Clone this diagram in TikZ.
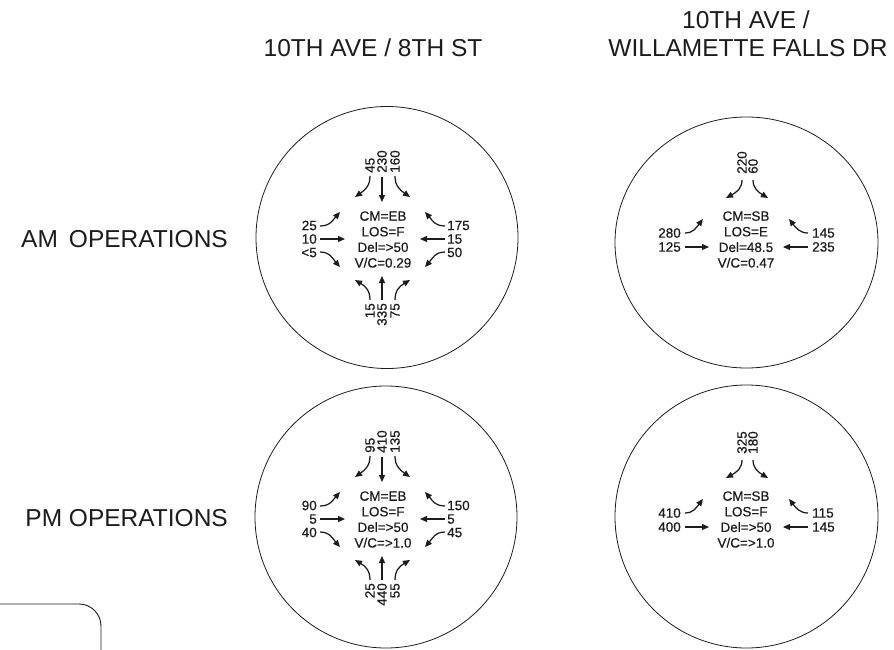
\documentclass[tikz,border=0pt]{standalone}
\usepackage{fontspec}
\setmainfont{Liberation Sans}
\newfontfamily\smallfont[FakeBold=0.5]{Liberation Sans}
\usetikzlibrary{arrows.meta,shapes.geometric}
\definecolor{ink}{HTML}{1C1C1C}
\begin{document}
\begin{tikzpicture}[x=1pt,y=-1pt,
  every node/.style={inner sep=0pt, text=ink},
  big/.style={font=\fontsize{24.5}{28}\selectfont},
  small/.style={font=\smallfont\fontsize{13.5}{13.5}\selectfont},
  pair/.style={font=\smallfont\fontsize{13.5}{14}\selectfont},
  ctr/.style={font=\smallfont\fontsize{13.5}{15.6}\selectfont, align=center},
  mv/.style={draw=ink, line width=1.25pt, -{Triangle[length=7pt,width=6pt]}},
  ring/.style={draw=ink, line width=0.8pt},
  up/.style={small, rotate=90, anchor=west},
  dn/.style={small, rotate=90, anchor=east},
]
\useasboundingbox (0,0) rectangle (894,650);

% titles and row labels
\node[big] (t1) at (373,48) {10TH AVE / 8TH ST};
\node[big] (t2a) at (746,20) {10TH AVE /};
\node[big] (t2b) at (748,48) {WILLAMETTE FALLS DR};
\node[big, anchor=east] (am) at (228,239) {AM\hspace{0.45em}OPERATIONS};
\node[big, anchor=east] (pm) at (228,518) {PM OPERATIONS};

% rings
\node[ring, circle, minimum size=262pt] (c1) at (387,237.5) {};
\node[ring, ellipse, minimum width=263pt, minimum height=251pt] (c2) at (746.5,242.5) {};
\node[ring, circle, minimum size=262pt] (c3) at (386,517) {};
\node[ring, circle, minimum size=263pt] (c4) at (746.5,516.5) {};

% corner frame
\draw[ink, line width=0.9pt, rounded corners=22pt] (0,604) -- (101,604) -- (101,650);

% ---------- AM, 10th / 8th ----------
\begin{scope}[shift={(383,240)}]
\node[up] (a1n1) at (-13,-67) {45};
\node[up] (a1n2) at (-1,-67) {230};
\node[up] (a1n3) at (12,-67) {160};
\draw[mv] (-13,-64) .. controls (-13,-54) and (-18,-50) .. (-28,-43);
\draw[mv] (-1,-63) -- (-1,-38);
\draw[mv] (12,-64) .. controls (12,-54) and (17,-50) .. (27,-43);
\node[small, align=right, anchor=east] (a1w) at (-66,-1) {25\\10\\<5};
\draw[mv] (-63,-14) .. controls (-53,-14) and (-50,-20) .. (-43,-28);
\draw[mv] (-63,-1) -- (-38,-1);
\draw[mv] (-63,12) .. controls (-53,12) and (-50,19) .. (-43,27);
\node[small, align=left, anchor=west] (a1e) at (64,-1) {175\\15\\50};
\draw[mv] (62,-14) .. controls (52,-14) and (49,-20) .. (42,-28);
\draw[mv] (62,-1) -- (37,-1);
\draw[mv] (62,12) .. controls (52,12) and (49,19) .. (42,27);
\draw[mv] (-13,60) .. controls (-13,50) and (-18,46) .. (-28,40);
\draw[mv] (-1,60) -- (-1,36);
\draw[mv] (12,60) .. controls (12,50) and (17,46) .. (27,40);
\node[dn] (a1s1) at (-13,63) {15};
\node[dn] (a1s2) at (-1,63) {335};
\node[dn] (a1s3) at (12,63) {75};
\node[ctr] (a1c) at (0,-0.5) {CM=EB\\LOS=F\\Del=>50\\V/C=0.29};
\end{scope}

% ---------- AM, 10th / Willamette Falls ----------
\begin{scope}[shift={(746,240)}]
\node[up] (a2n1) at (-4,-66) {220};
\node[up] (a2n2) at (7,-66) {60};
\draw[mv] (-4,-60) .. controls (-4,-52) and (-9,-48) .. (-20,-42);
\draw[mv] (7,-60) .. controls (7,-52) and (12,-48) .. (22,-42);
\node[pair, align=right, anchor=east] (a2w) at (-65,0) {280\\125};
\draw[mv] (-61,-7) .. controls (-53,-7) and (-50,-12) .. (-43,-21);
\draw[mv] (-61,7) -- (-37,7);
\node[pair, align=left, anchor=west] (a2e) at (66,0) {145\\235};
\draw[mv] (62,-7) .. controls (54,-7) and (50,-12) .. (43,-21);
\draw[mv] (62,7) -- (37,7);
\node[ctr] (a2c) at (0,-0.5) {CM=SB\\LOS=E\\Del=48.5\\V/C=0.47};
\end{scope}

% ---------- PM, 10th / 8th ----------
\begin{scope}[shift={(383,520)}]
\node[up] (p1n1) at (-13,-67) {95};
\node[up] (p1n2) at (-1,-67) {410};
\node[up] (p1n3) at (12,-67) {135};
\draw[mv] (-13,-64) .. controls (-13,-54) and (-18,-50) .. (-28,-43);
\draw[mv] (-1,-63) -- (-1,-38);
\draw[mv] (12,-64) .. controls (12,-54) and (17,-50) .. (27,-43);
\node[small, align=right, anchor=east] (p1w) at (-66,-1) {90\\5\\40};
\draw[mv] (-63,-14) .. controls (-53,-14) and (-50,-20) .. (-43,-28);
\draw[mv] (-63,-1) -- (-38,-1);
\draw[mv] (-63,12) .. controls (-53,12) and (-50,19) .. (-43,27);
\node[small, align=left, anchor=west] (p1e) at (64,-1) {150\\5\\45};
\draw[mv] (62,-14) .. controls (52,-14) and (49,-20) .. (42,-28);
\draw[mv] (62,-1) -- (37,-1);
\draw[mv] (62,12) .. controls (52,12) and (49,19) .. (42,27);
\draw[mv] (-13,60) .. controls (-13,50) and (-18,46) .. (-28,40);
\draw[mv] (-1,60) -- (-1,36);
\draw[mv] (12,60) .. controls (12,50) and (17,46) .. (27,40);
\node[dn] (p1s1) at (-13,63) {25};
\node[dn] (p1s2) at (-1,63) {440};
\node[dn] (p1s3) at (12,63) {55};
\node[ctr] (p1c) at (0,-0.5) {CM=EB\\LOS=F\\Del=>50\\V/C=>1.0};
\end{scope}

% ---------- PM, 10th / Willamette Falls ----------
\begin{scope}[shift={(746,520)}]
\node[up] (p2n1) at (-4,-66) {325};
\node[up] (p2n2) at (7,-66) {180};
\draw[mv] (-4,-60) .. controls (-4,-52) and (-9,-48) .. (-20,-42);
\draw[mv] (7,-60) .. controls (7,-52) and (12,-48) .. (22,-42);
\node[pair, align=right, anchor=east] (p2w) at (-65,0) {410\\400};
\draw[mv] (-61,-7) .. controls (-53,-7) and (-50,-12) .. (-43,-21);
\draw[mv] (-61,7) -- (-37,7);
\node[pair, align=left, anchor=west] (p2e) at (66,0) {115\\145};
\draw[mv] (62,-7) .. controls (54,-7) and (50,-12) .. (43,-21);
\draw[mv] (62,7) -- (37,7);
\node[ctr] (p2c) at (0,-0.5) {CM=SB\\LOS=F\\Del=>50\\V/C=>1.0};
\end{scope}
\end{tikzpicture}
\end{document}
